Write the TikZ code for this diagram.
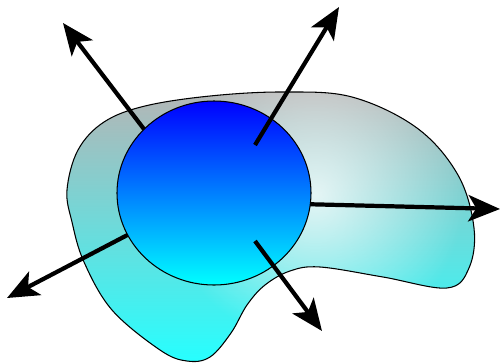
\documentclass[tikz,border=0pt]{standalone}
\usepackage{tikz}
\usetikzlibrary{arrows.meta,fadings}

\tikzfading[name=lightspot, inner color=transparent!20, outer color=transparent!100]

\begin{document}
\begin{tikzpicture}[
  x=0.02cm,y=-0.02cm,
  line cap=butt,
  line join=round,
  body/.style={draw=black,line width=0.6pt},
  ball/.style={draw=black,line width=0.6pt,top color=blue,bottom color=cyan},
  vec/.style={draw=black,line width=2.4pt,
    -{Stealth[length=18pt,width=15pt,inset=4.5pt]}}
]
\useasboundingbox (0,0) rectangle (501,363);

% outline of the region
\def\blob{plot[smooth cycle,tension=0.6] coordinates {
  (283,92) (352,97) (417,128) (458,175) (474,228) (469,268) (447,288)
  (383,277) (320,267) (290,271) (265,285) (247,305) (231,333)
  (210,357) (187,361) (160,350) (112,310) (84,262) (72,222)
  (67,190) (78,150) (104,122) (145,106) (210,96)}}

\shade[top color=gray!58,bottom color=cyan!85] \blob;
\fill[white,path fading=lightspot,fit fading=false,
  fading transform={shift={(315,195)},scale=3.4}] \blob;
\draw[body] \blob;

% ball and its centre
\coordinate (C) at (214,193);
\def\rx{97}
\def\ry{92}

% arrow ends
\coordinate (A1) at (150,137);
\coordinate (T1) at (63,23);
\coordinate (A2) at (255,145);
\coordinate (T2) at (339,7);
\coordinate (A3) at (300,204);
\coordinate (T3) at (500,209);
\coordinate (A4) at (137,230);
\coordinate (T4) at (7,298);
\coordinate (A5) at (255,241);
\coordinate (T5) at (322,331);

% arrows leaving from the rim
\draw[vec] (A1) -- (T1);
\draw[vec] (A3) -- (T3);
\draw[vec] (A4) -- (T4);

\path[ball] (C) ellipse [x radius=\rx, y radius=\ry];

% arrows leaving from inside
\draw[vec] (A2) -- (T2);
\draw[vec] (A5) -- (T5);

\end{tikzpicture}
\end{document}
